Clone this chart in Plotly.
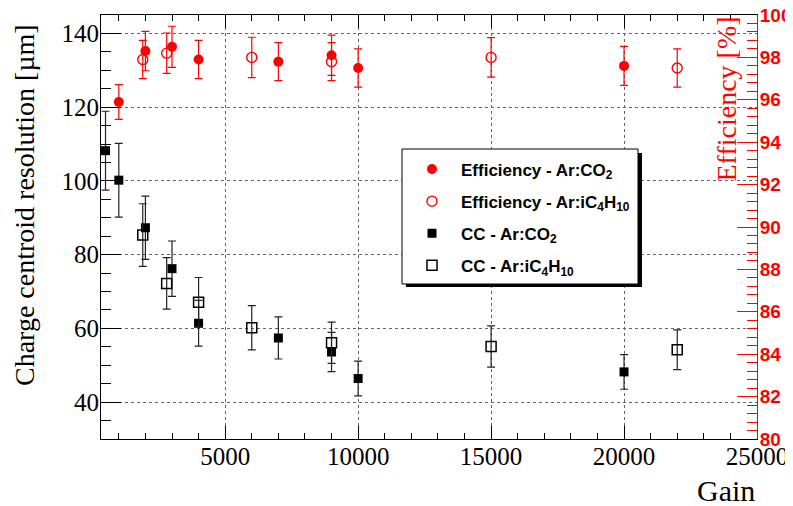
import plotly.graph_objects as go

# ---------------- data ----------------
# Charge centroid resolution, Ar:CO2
cc_co2_gain = [500, 1000, 2000, 3000, 4000, 7000, 9000, 10000, 20000]
cc_co2_res = [108.2, 100.2, 87.3, 76.2, 61.4, 57.4, 53.6, 46.4, 48.2]
cc_co2_err = [10.7, 10.0, 8.6, 7.5, 6.2, 5.7, 5.3, 4.7, 4.7]

# Charge centroid resolution, Ar:iC4H10
cc_iso_gain = [1900, 2800, 4000, 6000, 9000, 15000, 22000]
cc_iso_res = [85.3, 72.2, 67.1, 60.2, 56.1, 55.1, 54.2]
cc_iso_err = [8.5, 7.0, 6.7, 6.0, 5.6, 5.6, 5.4]

# Efficiency, Ar:CO2
eff_co2_gain = [1000, 2000, 3000, 4000, 7000, 9000, 10000, 20000]
eff_co2 = [95.9, 98.3, 98.5, 97.9, 97.8, 98.1, 97.5, 97.6]
eff_co2_err = [0.82, 0.93, 0.97, 0.9, 0.9, 0.95, 0.9, 0.92]

# Efficiency, Ar:iC4H10
eff_iso_gain = [1900, 2800, 6000, 9000, 15000, 22000]
eff_iso = [97.9, 98.2, 98.0, 97.8, 98.0, 97.5]
eff_iso_err = [0.9, 0.95, 0.95, 0.9, 0.93, 0.9]

names = [
    "Efficiency - Ar:CO<sub>2</sub>",
    "Efficiency - Ar:iC<sub>4</sub>H<sub>10</sub>",
    "CC - Ar:CO<sub>2</sub>",
    "CC - Ar:iC<sub>4</sub>H<sub>10</sub>",
]

RED = "#ff0000"
DARK = "#222222"
SERIF = "Liberation Serif"
SANS = "Liberation Sans"

fig = go.Figure()

fig.add_trace(go.Scatter(
    x=eff_co2_gain, y=eff_co2, yaxis="y2", mode="markers", name=names[0],
    legendgroup="a",
    marker=dict(symbol="circle", size=10, color=RED),
    error_y=dict(type="data", array=eff_co2_err, color=RED, thickness=1.2, width=4),
))
fig.add_trace(go.Scatter(
    x=eff_iso_gain, y=eff_iso, yaxis="y2", mode="markers", name=names[1],
    legendgroup="b",
    marker=dict(symbol="circle-open", size=10, color=RED, line=dict(width=1.4, color=RED)),
    error_y=dict(type="data", array=eff_iso_err, color=RED, thickness=1.2, width=4),
))
fig.add_trace(go.Scatter(
    x=cc_co2_gain, y=cc_co2_res, mode="markers", name=names[2],
    legendgroup="c",
    marker=dict(symbol="square", size=9, color="black"),
    error_y=dict(type="data", array=cc_co2_err, color=DARK, thickness=1.2, width=4),
))
fig.add_trace(go.Scatter(
    x=cc_iso_gain, y=cc_iso_res, mode="markers", name=names[3],
    legendgroup="d",
    marker=dict(symbol="square-open", size=10, color="black", line=dict(width=1.5, color="black")),
    error_y=dict(type="data", array=cc_iso_err, color=DARK, thickness=1.2, width=4),
))

# target plot area in page pixels; the page body adds an 8 px offset
L, R, T, B = 101, 757, 15, 439
W, H = 793, 506
OFF = 8


def px(xp):
    return (xp - L) / (R - L)


def py(yp):
    return (B - yp) / (B - T)


fig.update_layout(
    width=W - OFF, height=H - OFF,
    margin=dict(l=L - OFF, r=W - R, t=T - OFF, b=H - B, autoexpand=False),
    paper_bgcolor="white", plot_bgcolor="white",
    showlegend=True,
    xaxis=dict(
        range=[330, 25000], tick0=0, dtick=5000, tickformat="d",
        ticks="inside", ticklen=13, tickcolor="black", tickwidth=1,
        showline=True, linecolor="black", linewidth=1, mirror="ticks",
        showgrid=True, gridcolor="#666666", griddash="dot", gridwidth=1,
        zeroline=False, automargin=False, ticklabelstandoff=-5,
        ticklabeloverflow="allow",
        minor=dict(tick0=0, dtick=1000, ticks="inside", ticklen=6, tickcolor="black", showgrid=False),
        tickfont=dict(family=SERIF, size=25, color="black"),
    ),
    yaxis=dict(
        range=[30, 145], tick0=0, dtick=20,
        ticks="inside", ticklen=20, tickcolor="black", tickwidth=1,
        showline=True, linecolor="black", linewidth=1, mirror=False,
        showgrid=True, gridcolor="#666666", griddash="dot", gridwidth=1,
        zeroline=False, automargin=False, ticklabelstandoff=-4,
        minor=dict(tick0=0, dtick=5, ticks="inside", ticklen=10, tickcolor="black", showgrid=False),
        tickfont=dict(family=SERIF, size=25, color="black"),
    ),
    yaxis2=dict(
        overlaying="y", side="right", anchor="x",
        range=[80, 100], tick0=0, dtick=2,
        ticks="inside", ticklen=20, tickcolor=RED, tickwidth=1,
        showline=True, linecolor=RED, linewidth=1,
        showgrid=False, zeroline=False, automargin=False,
        ticklabeloverflow="allow", ticklabelstandoff=-2,
        minor=dict(tick0=0, dtick=0.4, ticks="inside", ticklen=10, tickcolor=RED, showgrid=False),
        tickfont=dict(family=SANS, size=19, color=RED, weight="bold"),
    ),
    legend=dict(
        x=px(403), y=py(151.5), xanchor="left", yanchor="top",
        bgcolor="rgba(0,0,0,0)", borderwidth=0,
        font=dict(family=SANS, size=17, color="black", weight="bold"),
        itemwidth=48, tracegroupgap=7, traceorder="grouped",
    ),
    shapes=[
        dict(type="rect", xref="paper", yref="paper", layer="above",
             x0=px(406), x1=px(642), y0=py(287), y1=py(153),
             fillcolor="black", line=dict(width=0)),
        dict(type="rect", xref="paper", yref="paper", layer="above",
             x0=px(402), x1=px(638), y0=py(284), y1=py(149),
             fillcolor="white", line=dict(color="black", width=1)),
    ],
    annotations=[
        dict(text="Charge centroid resolution [µm]", xref="paper", yref="paper",
             x=0, xshift=-(L - 25), y=py(205), xanchor="center", yanchor="middle",
             textangle=-90, showarrow=False,
             font=dict(family=SERIF, size=28, color="black")),
        dict(text="Efficiency [%]", xref="paper", yref="paper",
             x=1, xshift=-(R - 726), y=1, xanchor="center", yanchor="top",
             textangle=-90, showarrow=False,
             font=dict(family=SERIF, size=28, color=RED)),
        dict(text="Gain", xref="paper", yref="paper",
             x=1, y=0, yshift=-(490 - B), xanchor="right", yanchor="middle",
             showarrow=False,
             font=dict(family=SERIF, size=30, color="black")),
    ],
)

fig.write_html("out.html")
